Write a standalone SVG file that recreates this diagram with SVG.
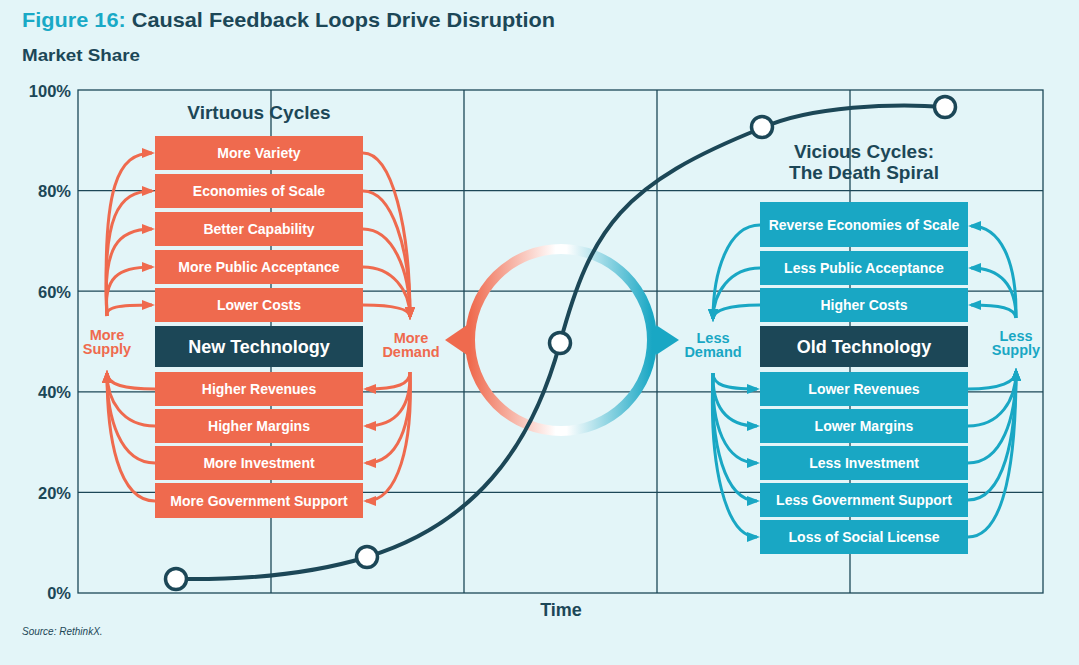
<svg xmlns="http://www.w3.org/2000/svg" width="1079" height="665" viewBox="0 0 1079 665">
<defs>
<style>
text{font-family:"Liberation Sans",Arial,sans-serif;}
.dark{fill:#1c4757;}
.grid{stroke:#1c4757;stroke-width:1.3;fill:none;}
.ylab{font-size:16.5px;font-weight:bold;fill:#1c4757;text-anchor:end;}
.bx-o{fill:#ef6a4e;}
.bx-t{fill:#19a7c4;}
.bx-d{fill:#1c4757;}
.bt{font-size:14px;font-weight:bold;fill:#ffffff;text-anchor:middle;}
.bt-big{font-size:18px;font-weight:bold;fill:#ffffff;text-anchor:middle;}
.lab-o{font-size:14.5px;font-weight:bold;fill:#ef6a4e;text-anchor:middle;}
.lab-t{font-size:14.5px;font-weight:bold;fill:#19a7c4;text-anchor:middle;}
.arr-o{fill:none;stroke:#ef6a4e;stroke-width:3;marker-end:url(#mo);}
.arr-t{fill:none;stroke:#19a7c4;stroke-width:3;marker-end:url(#mt);}
.dot{fill:#ffffff;stroke:#1c4757;stroke-width:3.5;}
.heading{font-size:19px;font-weight:bold;fill:#1c4757;text-anchor:middle;}
</style>
<marker id="mo" viewBox="0 0 13 10" refX="10" refY="5" markerWidth="13" markerHeight="10" markerUnits="userSpaceOnUse" orient="auto"><path d="M0,0 L13,5 L0,10 z" fill="#ef6a4e"/></marker>
<marker id="mt" viewBox="0 0 13 10" refX="10" refY="5" markerWidth="13" markerHeight="10" markerUnits="userSpaceOnUse" orient="auto"><path d="M0,0 L13,5 L0,10 z" fill="#19a7c4"/></marker>
<linearGradient id="ring" x1="0" y1="0" x2="1" y2="0">
<stop offset="0" stop-color="#ef6a4e"/>
<stop offset="0.47" stop-color="#ffffff"/>
<stop offset="0.53" stop-color="#ffffff"/>
<stop offset="1" stop-color="#19a7c4"/>
</linearGradient>
</defs>

<rect x="0" y="0" width="1079" height="665" fill="#e3f5f8"/>

<g id="titles">
<text x="22" y="27" font-size="21" font-weight="bold" textLength="533" lengthAdjust="spacingAndGlyphs"><tspan fill="#19a9c6">Figure 16:</tspan><tspan class="dark"> Causal Feedback Loops Drive Disruption</tspan></text>
<text x="22" y="61" font-size="17" font-weight="bold" class="dark" textLength="118" lengthAdjust="spacingAndGlyphs">Market Share</text>
<text x="561" y="616" font-size="18" font-weight="bold" class="dark" text-anchor="middle">Time</text>
<text x="22" y="635" font-size="10" font-style="italic" class="dark">Source: RethinkX.</text>
</g>

<g id="axes">
<rect class="grid" x="78" y="90" width="965" height="503"/>
<line class="grid" x1="271" y1="90" x2="271" y2="593"/>
<line class="grid" x1="464" y1="90" x2="464" y2="593"/>
<line class="grid" x1="657" y1="90" x2="657" y2="593"/>
<line class="grid" x1="850" y1="90" x2="850" y2="593"/>
<line class="grid" x1="78" y1="190.6" x2="1043" y2="190.6"/>
<line class="grid" x1="78" y1="291.2" x2="1043" y2="291.2"/>
<line class="grid" x1="78" y1="391.8" x2="1043" y2="391.8"/>
<line class="grid" x1="78" y1="492.4" x2="1043" y2="492.4"/>
<text class="ylab" x="71" y="97">100%</text>
<text class="ylab" x="71" y="197">80%</text>
<text class="ylab" x="71" y="298">60%</text>
<text class="ylab" x="71" y="398">40%</text>
<text class="ylab" x="71" y="499">20%</text>
<text class="ylab" x="71" y="599">0%</text>
</g>

<g id="ring-center">
<circle cx="561" cy="340" r="91" fill="none" stroke="url(#ring)" stroke-width="10"/>
<polygon points="445,340 467,325 467,355" fill="#ef6a4e"/>
<polygon points="679,340 656,325 656,355" fill="#19a7c4"/>
</g>

<g id="headings">
<text class="heading" x="259" y="119">Virtuous Cycles</text>
<text class="heading" x="864" y="158" font-size="18">Vicious Cycles:</text>
<text class="heading" x="864" y="179" font-size="18">The Death Spiral</text>
</g>

<g id="new-technology-stack">
<g id="n-more-variety"><rect class="bx-o" x="155" y="136" width="208" height="34"/><text class="bt" x="259" y="158">More Variety</text></g>
<g id="n-economies"><rect class="bx-o" x="155" y="174" width="208" height="34"/><text class="bt" x="259" y="196">Economies of Scale</text></g>
<g id="n-better-capability"><rect class="bx-o" x="155" y="212" width="208" height="34"/><text class="bt" x="259" y="234">Better Capability</text></g>
<g id="n-public-acceptance"><rect class="bx-o" x="155" y="250" width="208" height="34"/><text class="bt" x="259" y="272">More Public Acceptance</text></g>
<g id="n-lower-costs"><rect class="bx-o" x="155" y="288" width="208" height="34"/><text class="bt" x="259" y="310">Lower Costs</text></g>
<g id="n-new-technology"><rect class="bx-d" x="155" y="326" width="208" height="41"/><text class="bt-big" x="259" y="353">New Technology</text></g>
<g id="n-higher-revenues"><rect class="bx-o" x="155" y="372" width="208" height="34"/><text class="bt" x="259" y="394">Higher Revenues</text></g>
<g id="n-higher-margins"><rect class="bx-o" x="155" y="409" width="208" height="34"/><text class="bt" x="259" y="431">Higher Margins</text></g>
<g id="n-more-investment"><rect class="bx-o" x="155" y="446" width="208" height="34"/><text class="bt" x="259" y="468">More Investment</text></g>
<g id="n-gov-support"><rect class="bx-o" x="155" y="483" width="208" height="35"/><text class="bt" x="259" y="506">More Government Support</text></g>
</g>

<g id="old-technology-stack">
<g id="n-reverse-economies"><rect class="bx-t" x="760" y="202" width="208" height="45"/><text class="bt" x="864" y="230">Reverse Economies of Scale</text></g>
<g id="n-less-acceptance"><rect class="bx-t" x="760" y="251" width="208" height="34"/><text class="bt" x="864" y="273">Less Public Acceptance</text></g>
<g id="n-higher-costs"><rect class="bx-t" x="760" y="288" width="208" height="34"/><text class="bt" x="864" y="310">Higher Costs</text></g>
<g id="n-old-technology"><rect class="bx-d" x="760" y="326" width="208" height="41"/><text class="bt-big" x="864" y="353">Old Technology</text></g>
<g id="n-lower-revenues"><rect class="bx-t" x="760" y="372" width="208" height="34"/><text class="bt" x="864" y="394">Lower Revenues</text></g>
<g id="n-lower-margins"><rect class="bx-t" x="760" y="409" width="208" height="34"/><text class="bt" x="864" y="431">Lower Margins</text></g>
<g id="n-less-investment"><rect class="bx-t" x="760" y="446" width="208" height="34"/><text class="bt" x="864" y="468">Less Investment</text></g>
<g id="n-less-gov"><rect class="bx-t" x="760" y="483" width="208" height="34"/><text class="bt" x="864" y="505">Less Government Support</text></g>
<g id="n-social-license"><rect class="bx-t" x="760" y="520" width="208" height="34"/><text class="bt" x="864" y="542">Loss of Social License</text></g>
</g>

<g id="n-more-supply"><text class="lab-o" x="107" y="340">More</text><text class="lab-o" x="107" y="354">Supply</text></g>
<g id="n-more-demand"><text class="lab-o" x="411" y="343">More</text><text class="lab-o" x="411" y="357">Demand</text></g>
<g id="n-less-demand"><text class="lab-t" x="713" y="343">Less</text><text class="lab-t" x="713" y="357">Demand</text></g>
<g id="n-less-supply"><text class="lab-t" x="1016" y="341">Less</text><text class="lab-t" x="1016" y="355">Supply</text></g>

<g id="connectors">
<path class="arr-o" d="M107,316 C102,186 118,153 152,153"/>
<path class="arr-o" d="M107,316 C102,216 118,191 152,191"/>
<path class="arr-o" d="M107,316 C102,246 118,229 152,229"/>
<path class="arr-o" d="M107,316 C103,277 118,267 152,267"/>
<path class="arr-o" d="M107,316 C105,307 118,305 152,305"/>
<path class="arr-o" d="M363,153 C392,153 410,227 410,317"/>
<path class="arr-o" d="M363,191 C392,191 410,248 410,317"/>
<path class="arr-o" d="M363,229 C392,229 410,269 410,317"/>
<path class="arr-o" d="M363,267 C392,267 410,290 410,317"/>
<path class="arr-o" d="M363,305 C395,305 410,309 410,317"/>
<path class="arr-o" d="M410,372 C410,384 398,389 366,389"/>
<path class="arr-o" d="M410,372 C411,405 398,426 366,426"/>
<path class="arr-o" d="M410,372 C412,425 398,463 366,463"/>
<path class="arr-o" d="M410,372 C413,445 398,501 366,501"/>
<path class="arr-o" d="M155,389 C125,389 107,385 107,373"/>
<path class="arr-o" d="M155,426 C122,426 107,400 107,373"/>
<path class="arr-o" d="M155,463 C120,463 107,418 107,373"/>
<path class="arr-o" d="M155,501 C118,501 107,437 107,373"/>

<path class="arr-t" d="M760,225 C728,225 713,272 713,319"/>
<path class="arr-t" d="M760,268 C730,268 713,293 713,319"/>
<path class="arr-t" d="M760,305 C730,305 713,310 713,319"/>
<path class="arr-t" d="M1016,318 C1017,260 1000,226 971,226"/>
<path class="arr-t" d="M1016,318 C1016,285 1000,268 971,268"/>
<path class="arr-t" d="M1016,318 C1015,308 1000,305 971,305"/>
<path class="arr-t" d="M713,373 C713,385 725,389 757,389"/>
<path class="arr-t" d="M713,373 C712,405 725,426 757,426"/>
<path class="arr-t" d="M713,373 C711,425 725,463 757,463"/>
<path class="arr-t" d="M713,373 C710,445 725,501 757,501"/>
<path class="arr-t" d="M713,373 C709,465 725,537 757,537"/>
<path class="arr-t" d="M968,389 C1000,389 1016,382 1016,371"/>
<path class="arr-t" d="M968,426 C1000,426 1016,400 1016,371"/>
<path class="arr-t" d="M968,463 C1002,463 1016,418 1016,371"/>
<path class="arr-t" d="M968,500 C1004,500 1016,437 1016,371"/>
<path class="arr-t" d="M968,537 C1006,537 1016,455 1016,371"/>
</g>

<g id="adoption-curve">
<path d="M176,579 C240,580 309.6,574.7 367,557 C472,525 531,450 560,343 C591.4,227 622.5,183.5 762,128 C810,106 895,103 945,107" fill="none" stroke="#1c4757" stroke-width="4"/>
<circle class="dot" cx="176" cy="579" r="10.5"/>
<circle class="dot" cx="367" cy="557" r="10.5"/>
<circle class="dot" cx="560" cy="343" r="10.5"/>
<circle class="dot" cx="762" cy="127" r="10.5"/>
<circle class="dot" cx="945" cy="107" r="10.5"/>
</g>
</svg>
